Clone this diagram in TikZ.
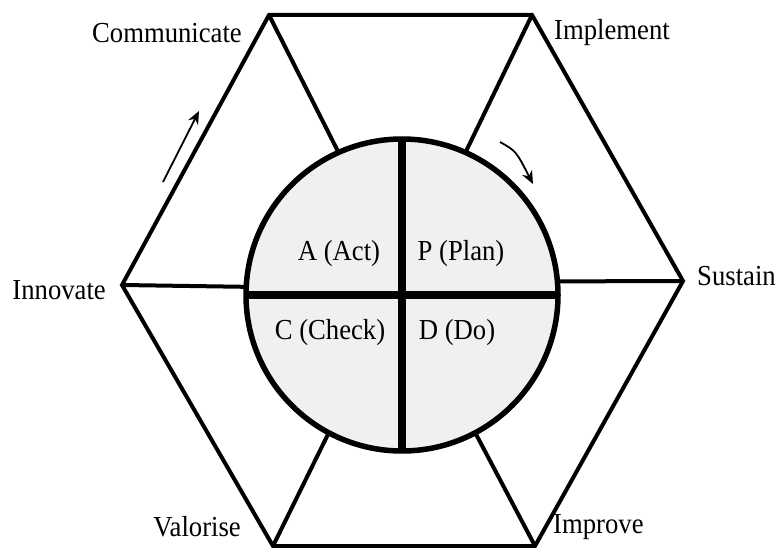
\documentclass[tikz,border=0pt]{standalone}
\usepackage{fontspec}
\setmainfont[FakeStretch=0.92]{Liberation Serif}
\usetikzlibrary{positioning,calc,arrows.meta}
\definecolor{disc}{RGB}{240,240,240}

\begin{document}
\begin{tikzpicture}[x=1pt,y=-1pt,
  lbl/.style={font=\fontsize{29}{33}\selectfont, inner sep=0pt},
  edge/.style={line width=4pt, line join=miter},
  flow/.style={line width=1.8pt, -{Stealth[length=13pt,width=11pt]}}]
\useasboundingbox (0,0) rectangle (782,548);

% hexagon corners
\coordinate (tl) at (269,15);
\coordinate (tr) at (532,15);
\coordinate (rt) at (683,281);
\coordinate (br) at (535,546);
\coordinate (bl) at (273,546);
\coordinate (lf) at (122,285);
\draw[edge] (tl) -- (tr) -- (rt) -- (br) -- (bl) -- (lf) -- cycle;

% PDCA disc
\node[circle, draw, fill=disc, line width=5.5pt, minimum size=312pt, outer sep=0pt, inner sep=0pt] (pdca) at (402,295) {};
\draw[line width=8pt] (pdca.north) -- (pdca.south);
\draw[line width=8pt] (pdca.west) -- (pdca.east);

% spokes
\foreach \v/\a in {tl/114, tr/66, rt/5, br/298, bl/242.5, lf/177}
  \draw[edge] (\v) -- (pdca.\a);

\node[lbl] (act) at (339,254) {A (Act)};
\node[lbl] (plan) at (461,254) {P (Plan)};
\node[lbl] (check) at (330,333) {C (Check)};
\node[lbl] (do) at (457,333) {D (Do)};

\node[lbl, anchor=east] (comm) at (242,33) {Communicate};
\node[lbl, anchor=west] (impl) at (554,33) {Implement};
\node[lbl, anchor=west] (sust) at (697,276) {Sustain};
\node[lbl, anchor=west] (impr) at (553,527) {Improve};
\node[lbl, anchor=east] (valo) at (241,527) {Valorise};
\node[lbl, anchor=east] (inno) at (106,290) {Innovate};

% direction arrows
\coordinate (up0) at (163,182);
\coordinate (up1) at (199,111);
\coordinate (cw0) at (500,142);
\coordinate (cw1) at (533,184);
\draw[flow] (up0) -- (up1);
\draw[flow] (cw0) .. controls (516,151) .. (cw1);
\end{tikzpicture}
\end{document}
